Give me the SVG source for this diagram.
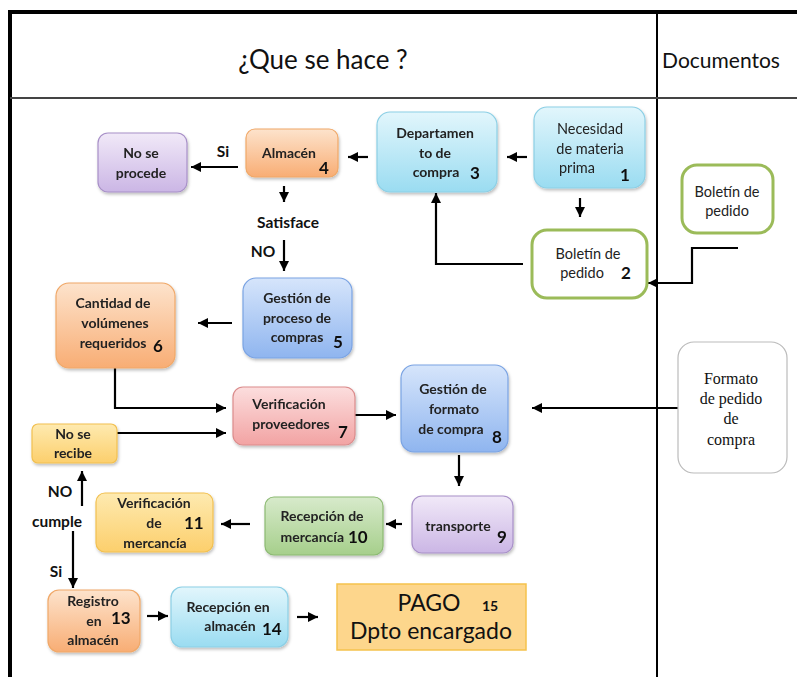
<svg xmlns="http://www.w3.org/2000/svg" width="797" height="677" viewBox="0 0 797 677">
<defs>
<linearGradient id="gCyan" x1="0" y1="0" x2="0" y2="1"><stop offset="0" stop-color="#e2f6fc"/><stop offset="1" stop-color="#9adcf1"/></linearGradient>
<linearGradient id="gOrange" x1="0" y1="0" x2="0" y2="1"><stop offset="0" stop-color="#fde3cc"/><stop offset="1" stop-color="#f8ad74"/></linearGradient>
<linearGradient id="gPurple" x1="0" y1="0" x2="0" y2="1"><stop offset="0" stop-color="#f1e9f8"/><stop offset="1" stop-color="#cbb6e5"/></linearGradient>
<linearGradient id="gBlue" x1="0" y1="0" x2="0" y2="1"><stop offset="0" stop-color="#d6e5fb"/><stop offset="1" stop-color="#8fb5ef"/></linearGradient>
<linearGradient id="gRed" x1="0" y1="0" x2="0" y2="1"><stop offset="0" stop-color="#fcdede"/><stop offset="1" stop-color="#f2a3a3"/></linearGradient>
<linearGradient id="gYellow" x1="0" y1="0" x2="0" y2="1"><stop offset="0" stop-color="#feeab0"/><stop offset="1" stop-color="#fccf6c"/></linearGradient>
<linearGradient id="gGreen" x1="0" y1="0" x2="0" y2="1"><stop offset="0" stop-color="#d7eacb"/><stop offset="1" stop-color="#a6cf8b"/></linearGradient>
<filter id="sh" x="-10%" y="-10%" width="125%" height="130%"><feDropShadow dx="1" dy="2" stdDeviation="1.5" flood-color="#000" flood-opacity="0.25"/></filter>
<marker id="ah" viewBox="0 0 10 10" refX="10" refY="5" markerWidth="10" markerHeight="10" markerUnits="userSpaceOnUse" orient="auto"><path d="M0,0 L10,5 L0,10 z" fill="#000"/></marker>
</defs>
<style>
.t{font-family:Lato,"Open Sans","Liberation Sans",sans-serif;font-size:14px;font-weight:bold;fill:#222;text-anchor:middle}
.n{font-family:Lato,"Open Sans","Liberation Sans",sans-serif;font-size:17px;font-weight:bold;fill:#111}
.r{font-family:Lato,"Open Sans","Liberation Sans",sans-serif;font-size:14.5px;fill:#222;text-anchor:middle}
.s{font-family:"Liberation Serif","Times New Roman",serif;font-size:16px;fill:#111;text-anchor:middle}
.c{fill:none;stroke:#000;stroke-width:2.2}
.lbl{font-family:Lato,"Open Sans","Liberation Sans",sans-serif;font-size:15.5px;font-weight:bold;fill:#111;text-anchor:middle}
</style>
<rect width="797" height="677" fill="#fff"/>
<g id="frame">
<line x1="8" y1="12" x2="797" y2="12" stroke="#000" stroke-width="4"/>
<line x1="10" y1="10" x2="10" y2="677" stroke="#000" stroke-width="4"/>
<line x1="657" y1="12" x2="657" y2="677" stroke="#000" stroke-width="2"/>
<line x1="10" y1="98" x2="797" y2="98" stroke="#444" stroke-width="2"/>
<text x="323" y="69" font-family="Lato,'Open Sans','Liberation Sans',sans-serif" font-size="26" fill="#111" text-anchor="middle">¿Que se hace ?</text>
<text x="721" y="68" font-family="Lato,'Open Sans','Liberation Sans',sans-serif" font-size="21" fill="#111" text-anchor="middle">Documentos</text>
</g>
<g id="connectors">
<line class="c" x1="527" y1="157" x2="507" y2="157" marker-end="url(#ah)"/>
<line class="c" x1="580" y1="198" x2="580" y2="217" marker-end="url(#ah)"/>
<polyline class="c" points="523,264 436,264 436,193" marker-end="url(#ah)"/>
<line class="c" x1="368" y1="157" x2="348" y2="157" marker-end="url(#ah)"/>
<line class="c" x1="238" y1="167" x2="191" y2="167" marker-end="url(#ah)"/>
<line class="c" x1="284" y1="186" x2="284" y2="202" marker-end="url(#ah)"/>
<line class="c" x1="284" y1="240" x2="284" y2="271" marker-end="url(#ah)"/>
<line class="c" x1="232" y1="323" x2="198" y2="323" marker-end="url(#ah)"/>
<polyline class="c" points="115,368 115,408 226,408" marker-end="url(#ah)"/>
<line class="c" x1="117" y1="433" x2="226" y2="433" marker-end="url(#ah)"/>
<line class="c" x1="355" y1="415" x2="396" y2="415" marker-end="url(#ah)"/>
<line class="c" x1="678" y1="408" x2="532" y2="408" marker-end="url(#ah)"/>
<line class="c" x1="459" y1="455" x2="459" y2="486" marker-end="url(#ah)"/>
<line class="c" x1="402" y1="524" x2="386" y2="524" marker-end="url(#ah)"/>
<line class="c" x1="250" y1="524" x2="221" y2="524" marker-end="url(#ah)"/>
<line class="c" x1="82" y1="506" x2="82" y2="471" marker-end="url(#ah)"/>
<line class="c" x1="73" y1="531" x2="73" y2="588" marker-end="url(#ah)"/>
<line class="c" x1="147" y1="616" x2="168" y2="616" marker-end="url(#ah)"/>
<line class="c" x1="297" y1="617" x2="318" y2="617" marker-end="url(#ah)"/>
<polyline class="c" points="738,248 692,248 692,283 648,283" marker-end="url(#ah)"/>
</g>
<g id="labels">
<text class="lbl" x="223" y="157">Si</text>
<text class="lbl" x="288" y="228">Satisface</text>
<text class="lbl" x="263" y="257">NO</text>
<text class="lbl" x="60" y="497">NO</text>
<text class="lbl" x="57" y="527">cumple</text>
<text class="lbl" x="56" y="577">Si</text>
</g>
<g id="n1" filter="url(#sh)">
<rect x="534" y="107" width="111" height="81" rx="13" fill="url(#gCyan)" stroke="#8ccfe5" stroke-width="1.2"/>
<text class="r" x="590" y="134">Necesidad</text>
<text class="r" x="590" y="154">de materia</text>
<text class="r" x="577" y="173">prima</text>
<text class="n" x="620" y="181">1</text>
</g>
<g id="n2">
<rect x="532" y="230" width="115" height="68" rx="15" fill="#fff" stroke="#9bbb59" stroke-width="3"/>
<text class="r" x="588" y="259">Boletín de</text>
<text class="r" x="582" y="278">pedido</text>
<text class="n" x="621" y="279">2</text>
</g>
<g id="n3" filter="url(#sh)">
<rect x="377" y="112" width="120" height="80" rx="13" fill="url(#gCyan)" stroke="#8ccfe5" stroke-width="1.2"/>
<text class="t" x="435" y="138">Departamen</text>
<text class="t" x="435" y="158">to de</text>
<text class="t" x="436" y="177">compra</text>
<text class="n" x="470" y="179">3</text>
</g>
<g id="n4" filter="url(#sh)">
<rect x="246" y="129" width="92" height="48" rx="9" fill="url(#gOrange)" stroke="#f0a868" stroke-width="1.2"/>
<text class="t" x="289" y="158">Almacén</text>
<text class="n" x="319" y="174">4</text>
</g>
<g id="noproc" filter="url(#sh)">
<rect x="98" y="133" width="89" height="59" rx="10" fill="url(#gPurple)" stroke="#a890c8" stroke-width="1.2"/>
<text class="t" x="141" y="158">No se</text>
<text class="t" x="141" y="178">procede</text>
</g>
<g id="n5" filter="url(#sh)">
<rect x="243" y="278" width="109" height="80" rx="13" fill="url(#gBlue)" stroke="#7aa3e3" stroke-width="1.2"/>
<text class="t" x="297" y="303">Gestión de</text>
<text class="t" x="297" y="323">proceso de</text>
<text class="t" x="297" y="342">compras</text>
<text class="n" x="333" y="348">5</text>
</g>
<g id="n6" filter="url(#sh)">
<rect x="56" y="283" width="119" height="85" rx="13" fill="url(#gOrange)" stroke="#f0a868" stroke-width="1.2"/>
<text class="t" x="113" y="308">Cantidad  de</text>
<text class="t" x="115" y="328">volúmenes</text>
<text class="t" x="113" y="348">requeridos</text>
<text class="n" x="153" y="352">6</text>
</g>
<g id="n7" filter="url(#sh)">
<rect x="233" y="387" width="122" height="58" rx="10" fill="url(#gRed)" stroke="#db8c8c" stroke-width="1.2"/>
<text class="t" x="289" y="409">Verificación</text>
<text class="t" x="291" y="429">proveedores</text>
<text class="n" x="338" y="438">7</text>
</g>
<g id="norec" filter="url(#sh)">
<rect x="32" y="424" width="85" height="39" rx="6" fill="url(#gYellow)" stroke="#f2c050" stroke-width="1.2"/>
<text class="t" x="73" y="439">No se</text>
<text class="t" x="73" y="458">recibe</text>
</g>
<g id="n8" filter="url(#sh)">
<rect x="401" y="365" width="107" height="87" rx="13" fill="url(#gBlue)" stroke="#7aa3e3" stroke-width="1.2"/>
<text class="t" x="453" y="394">Gestión de</text>
<text class="t" x="454" y="414">formato</text>
<text class="t" x="451" y="434">de compra</text>
<text class="n" x="492" y="443">8</text>
</g>
<g id="n9" filter="url(#sh)">
<rect x="412" y="496" width="101" height="57" rx="10" fill="url(#gPurple)" stroke="#a890c8" stroke-width="1.2"/>
<text class="t" x="458" y="531">transporte</text>
<text class="n" x="497" y="543">9</text>
</g>
<g id="n10" filter="url(#sh)">
<rect x="265" y="497" width="118" height="58" rx="9" fill="url(#gGreen)" stroke="#8cba72" stroke-width="1.2"/>
<text class="t" x="322" y="521">Recepción  de</text>
<text class="t" x="344" y="542" style="text-anchor:end">mercancía</text>
<text class="n" x="348" y="543">10</text>
</g>
<g id="n11" filter="url(#sh)">
<rect x="96" y="493" width="117" height="59" rx="9" fill="url(#gYellow)" stroke="#f2c050" stroke-width="1.2"/>
<text class="t" x="154" y="508">Verificación</text>
<text class="t" x="154" y="528">de</text>
<text class="n" x="184" y="529">11</text>
<text class="t" x="155" y="548">mercancía</text>
</g>
<g id="n13" filter="url(#sh)">
<rect x="48" y="590" width="92" height="62" rx="11" fill="url(#gOrange)" stroke="#f0a868" stroke-width="1.2"/>
<text class="t" x="93" y="606">Registro</text>
<text class="t" x="94" y="626">en</text>
<text class="n" x="111" y="624">13</text>
<text class="t" x="93" y="645">almacén</text>
</g>
<g id="n14" filter="url(#sh)">
<rect x="171" y="587" width="117" height="60" rx="11" fill="url(#gCyan)" stroke="#8ccfe5" stroke-width="1.2"/>
<text class="t" x="228" y="612">Recepción  en</text>
<text class="t" x="230" y="631">almacén</text>
<text class="n" x="262" y="635">14</text>
</g>
<g id="n15">
<rect x="337" y="584" width="189" height="66" fill="#fdd68c" stroke="#f5c24c" stroke-width="1.5"/>
<text x="429" y="611" font-family="Lato,'Open Sans','Liberation Sans',sans-serif" font-size="23" fill="#111" text-anchor="middle">PAGO</text>
<text x="482" y="611" font-family="Lato,'Open Sans','Liberation Sans',sans-serif" font-size="14" font-weight="bold" fill="#111">15</text>
<text x="431" y="639" font-family="Lato,'Open Sans','Liberation Sans',sans-serif" font-size="23" fill="#111" text-anchor="middle">Dpto encargado</text>
</g>
<g id="docBoletin">
<rect x="682" y="165" width="91" height="68" rx="15" fill="#fff" stroke="#9bbb59" stroke-width="3"/>
<text class="r" x="727" y="197">Boletín de</text>
<text class="r" x="727" y="216">pedido</text>
</g>
<g id="docFormato">
<rect x="678" y="342" width="109" height="131" rx="16" fill="#fff" stroke="#bbb" stroke-width="1.2"/>
<text class="s" x="731" y="384">Formato</text>
<text class="s" x="731" y="404">de pedido</text>
<text class="s" x="731" y="424">de</text>
<text class="s" x="731" y="445">compra</text>
</g>
</svg>
